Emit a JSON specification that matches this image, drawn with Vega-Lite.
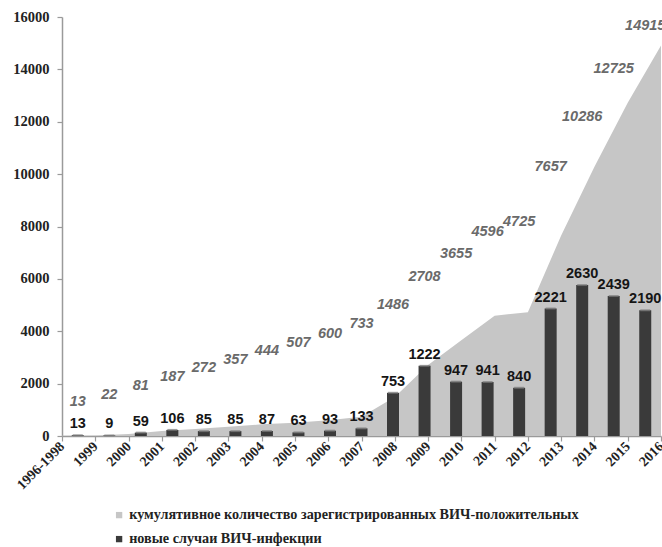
{
  "$schema": "https://vega.github.io/schema/vega-lite/v6.json",
  "width": 599,
  "height": 419,
  "autosize": {"type": "none"},
  "padding": {"left": 62, "top": 17, "right": 1, "bottom": 111},
  "background": "white",
  "config": {"view": {"stroke": null}},
  "data": {"values": [
    {"year": "1996-1998", "new": 13, "cumulative": 13},
    {"year": "1999", "new": 9, "cumulative": 22},
    {"year": "2000", "new": 59, "cumulative": 81},
    {"year": "2001", "new": 106, "cumulative": 187},
    {"year": "2002", "new": 85, "cumulative": 272},
    {"year": "2003", "new": 85, "cumulative": 357},
    {"year": "2004", "new": 87, "cumulative": 444},
    {"year": "2005", "new": 63, "cumulative": 507},
    {"year": "2006", "new": 93, "cumulative": 600},
    {"year": "2007", "new": 133, "cumulative": 733},
    {"year": "2008", "new": 753, "cumulative": 1486},
    {"year": "2009", "new": 1222, "cumulative": 2708},
    {"year": "2010", "new": 947, "cumulative": 3655},
    {"year": "2011", "new": 941, "cumulative": 4596},
    {"year": "2012", "new": 840, "cumulative": 4725},
    {"year": "2013", "new": 2221, "cumulative": 7657},
    {"year": "2014", "new": 2630, "cumulative": 10286},
    {"year": "2015", "new": 2439, "cumulative": 12725},
    {"year": "2016", "new": 2190, "cumulative": 14915}
  ]},
  "layer": [
    {
      "mark": {"type": "area", "line": false, "opacity": 1},
      "encoding": {
        "x": {
          "field": "year", "type": "nominal", "sort": null,
          "scale": {"type": "point", "padding": 0},
          "axis": {
            "title": null, "labelAngle": -45, "labelAlign": "right", "labelBaseline": "middle",
            "labelFont": "Liberation Serif", "labelFontWeight": "bold", "labelFontSize": 14,
            "labelColor": "#222222", "domainColor": "#9a9a9a", "domainWidth": 1.5,
            "tickColor": "#9a9a9a", "tickSize": 5, "tickWidth": 1.2, "labelPadding": 3,
            "labelOverlap": false, "grid": false
          }
        },
        "y": {
          "field": "cumulative", "type": "quantitative",
          "scale": {"domain": [0, 16000], "nice": false},
          "axis": {
            "title": null, "format": "d", "values": [0, 2000, 4000, 6000, 8000, 10000, 12000, 14000, 16000],
            "labelFont": "Liberation Serif", "labelFontWeight": "bold", "labelFontSize": 14.5,
            "labelColor": "#222222", "domainColor": "#9a9a9a", "domainWidth": 1.5,
            "tickColor": "#9a9a9a", "tickSize": 5, "tickWidth": 1.2, "labelPadding": 8, "grid": false
          }
        },
        "color": {
          "datum": "кумулятивное количество зарегистрированных ВИЧ-положительных",
          "type": "nominal",
          "scale": {
            "domain": ["кумулятивное количество зарегистрированных ВИЧ-положительных", "новые случаи ВИЧ-инфекции"],
            "range": ["#c6c6c6", "#3a3a3a"]
          },
          "legend": {
            "title": null, "orient": "none", "legendX": 50, "legendY": 491, "padding": 0,
            "symbolType": "square", "symbolSize": 40, "symbolStrokeWidth": 0,
            "labelFont": "Liberation Serif", "labelFontWeight": "bold", "labelFontSize": 14.2,
            "labelColor": "#222222", "labelOffset": 3, "rowPadding": 9, "labelLimit": 700
          }
        }
      }
    },
    {
      "mark": {"type": "bar", "width": 12},
      "encoding": {
        "x": {
          "field": "year", "type": "nominal", "sort": null,
          "scale": {"type": "band", "paddingInner": 0, "paddingOuter": 0},
          "axis": null
        },
        "y": {
          "field": "new", "type": "quantitative",
          "scale": {"domain": [0, 7300], "nice": false},
          "axis": null
        },
        "color": {"datum": "новые случаи ВИЧ-инфекции", "type": "nominal"}
      }
    },
    {
      "mark": {"type": "tick", "orient": "horizontal", "size": 10, "thickness": 2, "color": "#7c7c7c"},
      "encoding": {
        "x": {
          "field": "year", "type": "nominal", "sort": null,
          "scale": {"type": "band", "paddingInner": 0, "paddingOuter": 0},
          "axis": null
        },
        "y": {
          "field": "new", "type": "quantitative",
          "scale": {"domain": [0, 7300], "nice": false},
          "axis": null
        }
      }
    },
    {
      "mark": {
        "type": "text", "font": "Liberation Sans", "fontWeight": "bold", "fontSize": 14.5,
        "color": "#151515", "baseline": "alphabetic", "dy": -7
      },
      "encoding": {
        "x": {
          "field": "year", "type": "nominal", "sort": null,
          "scale": {"type": "band", "paddingInner": 0, "paddingOuter": 0},
          "axis": null
        },
        "y": {
          "field": "new", "type": "quantitative",
          "scale": {"domain": [0, 7300], "nice": false},
          "axis": null
        },
        "text": {"field": "new", "type": "quantitative"}
      }
    },
    {
      "mark": {
        "type": "text", "font": "Liberation Sans", "fontWeight": "bold", "fontStyle": "italic",
        "fontSize": 14.5, "color": "#6a6a6a", "baseline": "middle"
      },
      "encoding": {
        "x": {
          "field": "year", "type": "nominal", "sort": null,
          "scale": {"type": "band", "paddingInner": 0, "paddingOuter": 0},
          "axis": null
        },
        "y": {
          "field": "year", "type": "nominal", "sort": null,
          "scale": {"type": "point", "padding": 0, "range": [385.2, 253.2]},
          "axis": null
        },
        "yOffset": {
          "field": "cumulative", "type": "quantitative",
          "scale": {"domain": [0, 25611], "range": [0, -419], "nice": false, "zero": true}
        },
        "text": {"field": "cumulative", "type": "quantitative"}
      }
    }
  ],
  "resolve": {"scale": {"x": "independent", "y": "independent"}}
}
